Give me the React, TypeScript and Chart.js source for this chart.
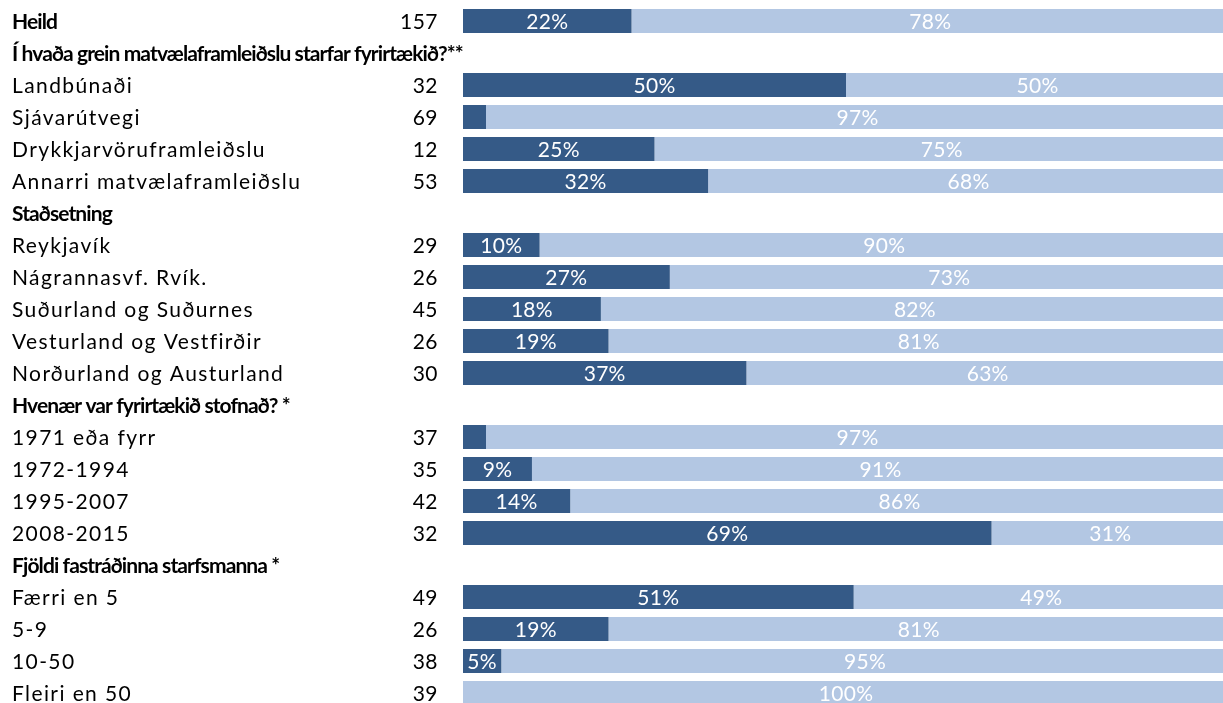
import React, { useEffect, useRef } from "react";
import { Chart, registerables } from "chart.js";

Chart.register(...registerables);

const categories: string[] = [
  "Heild",
  "Í hvaða grein matvælaframleiðslu starfar fyrirtækið?**",
  "Landbúnaði",
  "Sjávarútvegi",
  "Drykkjarvöruframleiðslu",
  "Annarri matvælaframleiðslu",
  "Staðsetning",
  "Reykjavík",
  "Nágrannasvf. Rvík.",
  "Suðurland og Suðurnes",
  "Vesturland og Vestfirðir",
  "Norðurland og Austurland",
  "Hvenær var fyrirtækið stofnað? *",
  "1971 eða fyrr",
  "1972-1994",
  "1995-2007",
  "2008-2015",
  "Fjöldi fastráðinna starfsmanna *",
  "Færri en 5",
  "5-9",
  "10-50",
  "Fleiri en 50",
];

const boldRows: boolean[] = [
  true, true, false, false, false, false, true, false, false, false, false, false,
  true, false, false, false, false, true, false, false, false, false,
];

const nValues: (number | null)[] = [
  157, null, 32, 69, 12, 53, null, 29, 26, 45, 26, 30, null, 37, 35, 42, 32, null, 49, 26, 38, 39,
];

const darkValues: (number | null)[] = [
  22, null, 50, 3, 25, 32, null, 10, 27, 18, 19, 37, null, 3, 9, 14, 69, null, 51, 19, 5, 0,
];

const lightValues: (number | null)[] = [
  78, null, 50, 97, 75, 68, null, 90, 73, 82, 81, 63, null, 97, 91, 86, 31, null, 49, 81, 95, 100,
];

const FONT = "Lato, 'Open Sans', sans-serif";

const rowsPlugin = {
  id: "rowsPlugin",
  afterDatasetsDraw(chart: any) {
    const ctx = chart.ctx as CanvasRenderingContext2D;
    const yScale = chart.scales.y;
    ctx.save();
    ctx.textBaseline = "middle";
    categories.forEach((lab, i) => {
      const py = yScale.getPixelForValue(i);
      ctx.fillStyle = "#000000";
      ctx.textAlign = "left";
      if (boldRows[i]) {
        ctx.font = `bold 21px ${FONT}`;
        (ctx as any).letterSpacing = "-0.9px";
      } else {
        ctx.font = `21px ${FONT}`;
        (ctx as any).letterSpacing = "1.4px";
      }
      ctx.fillText(lab, 12, py + 1);
      const n = nValues[i];
      if (n != null) {
        ctx.font = `21px ${FONT}`;
        (ctx as any).letterSpacing = "0.5px";
        ctx.textAlign = "right";
        ctx.fillText(String(n), 438, py + 1);
      }
    });
    (ctx as any).letterSpacing = "0.3px";
    ctx.font = `21px ${FONT}`;
    ctx.textAlign = "center";
    ctx.fillStyle = "#ffffff";
    chart.data.datasets.forEach((ds: any, di: number) => {
      const meta = chart.getDatasetMeta(di);
      meta.data.forEach((bar: any, i: number) => {
        const v = ds.data[i];
        if (v == null || v < 5) return;
        const p = bar.getProps(["x", "y", "base"], true);
        ctx.fillText(`${v}%`, (p.x + p.base) / 2, p.y + 1);
      });
    });
    ctx.restore();
  },
};

export default function App() {
  const ref = useRef<HTMLCanvasElement | null>(null);
  useEffect(() => {
    document.body.style.margin = "0";
    if (!ref.current) return;
    const chart = new Chart(ref.current, {
      type: "bar",
      data: {
        labels: categories,
        datasets: [
          {
            label: "Já",
            data: darkValues,
            backgroundColor: "#355a87",
            borderWidth: 0,
            barPercentage: 1,
            categoryPercentage: 0.75,
          },
          {
            label: "Nei",
            data: lightValues,
            backgroundColor: "#b3c7e3",
            borderWidth: 0,
            barPercentage: 1,
            categoryPercentage: 0.75,
          },
        ],
      },
      options: {
        indexAxis: "y",
        animation: false,
        responsive: false,
        maintainAspectRatio: false,
        layout: { padding: { left: 463, right: 0, top: 5, bottom: 3 } },
        plugins: {
          legend: { display: false },
          tooltip: { enabled: false },
        },
        scales: {
          x: { stacked: true, min: 0, max: 100, display: false },
          y: { stacked: true, display: false },
        },
      },
      plugins: [rowsPlugin],
    });
    return () => chart.destroy();
  }, []);
  return (
    <div style={{ width: 1223, height: 703, overflow: "hidden" }}>
      <canvas ref={ref} width={1229} height={712} style={{ display: "block" }} />
    </div>
  );
}
